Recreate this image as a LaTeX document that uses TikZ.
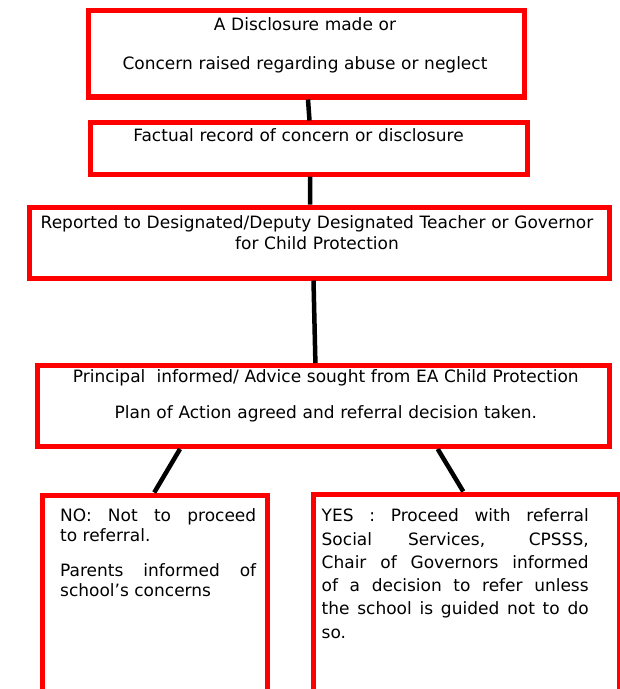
\documentclass[tikz,border=0pt]{standalone}
\usepackage{fontspec}
\setmainfont{DejaVu Sans}

\tikzset{
	redbox/.style={draw=red, line width=5bp, inner sep=0pt},
	link/.style={draw=black, line width=4.5bp},
	boxtext/.style={inner sep=0pt, font=\fontsize{17bp}{20bp}\selectfont},
}

\begin{document}
\begin{tikzpicture}[x=1bp,y=-1bp]
	\useasboundingbox (0,0) rectangle (620,689);
	\clip (0,0) rectangle (620,689);

	% boxes
	\node[redbox, minimum width=435bp, minimum height=86bp] (disclosure) at (306.5,54) {};
	\node[redbox, minimum width=436.5bp, minimum height=51bp] (record) at (309.25,148.5) {};
	\node[redbox, minimum width=579bp, minimum height=71bp] (reported) at (319.5,242.5) {};
	\node[redbox, minimum width=571bp, minimum height=81bp] (principal) at (323.5,406) {};
	\node[redbox, minimum width=224.5bp, minimum height=265bp] (noref) at (155.25,627.5) {};
	\node[redbox, minimum width=305.5bp, minimum height=266bp] (yesref) at (466.25,627) {};

	% texts
	\node[boxtext, anchor=base, text width=430bp, align=center] (disclosuretext) at (305,31) {A Disclosure made or\\[19bp]Concern raised regarding abuse or neglect};
	\node[boxtext, anchor=base, text width=430bp, align=center] (recordtext) at (298.5,141.7) {Factual record of concern or disclosure};
	\node[boxtext, anchor=base, text width=600bp, align=center, font=\fontsize{17bp}{21.3bp}\selectfont] (reportedtext) at (317,228) {Reported to Designated/Deputy Designated Teacher or Governor\\for Child Protection};
	\node[boxtext, anchor=base, text width=560bp, align=center] (principaltext) at (325.8,382.3) {Principal\ \ informed/ Advice sought from EA Child Protection\\[16bp]Plan of Action agreed and referral decision taken.};
	\node[boxtext, anchor=base west, text width=196bp, align=justify] (notext) at (60,521.7) {NO: Not to proceed\linebreak to referral.};
	\node[boxtext, anchor=base west, text width=196bp, align=justify] (parentstext) at (60,576.7) {Parents informed of\linebreak school’s concerns};
	\node[boxtext, anchor=base west, text width=267bp, align=justify, font=\fontsize{17bp}{23.3bp}\selectfont] (yestext) at (321.5,521.7) {YES : Proceed with referral\linebreak Social Services, CPSSS,\linebreak Chair of Governors informed\linebreak of a decision to refer unless\linebreak the school is guided not to do\linebreak so.};

	% connectors
	\draw[link] ([xshift=1.5bp]disclosure.south) -- ([xshift=0.25bp]record.north);
	\draw[link] ([xshift=0.75bp]record.south) -- ([xshift=-9.5bp]reported.north);
	\draw[link] ([xshift=-6bp]reported.south) -- ([xshift=-8.1bp]principal.north);
	\draw[link] ([xshift=-143.5bp]principal.south) -- ([xshift=-1bp]noref.north);
	\draw[link] ([xshift=114.2bp]principal.south) -- ([xshift=-3bp]yesref.north);
\end{tikzpicture}
\end{document}
